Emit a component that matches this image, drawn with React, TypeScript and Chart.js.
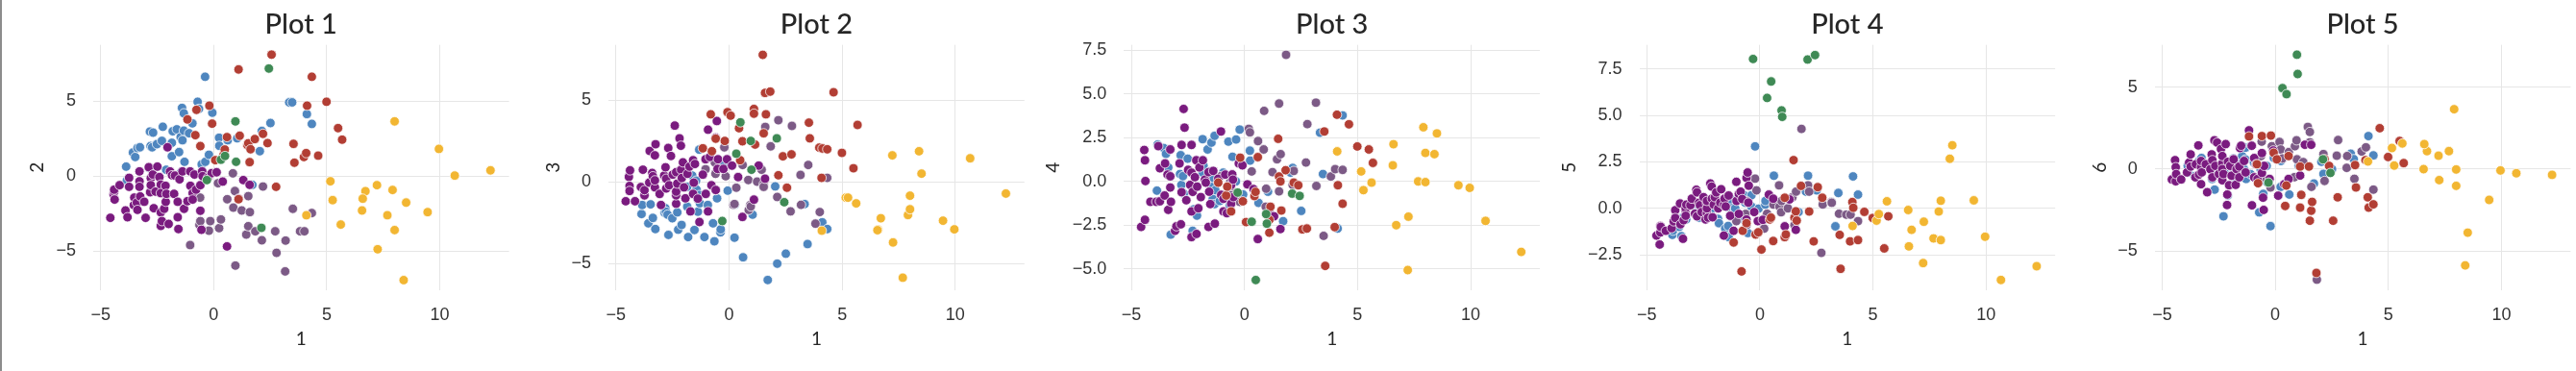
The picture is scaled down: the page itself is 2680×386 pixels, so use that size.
import React, { useEffect, useRef } from "react";
import { Chart, registerables } from "chart.js";

Chart.register(...registerables);

// ---------------- DATA ----------------
const plotTitles = ["Plot 1", "Plot 2", "Plot 3", "Plot 4", "Plot 5"];
const xAxisTitle = "1";
const yAxisTitles = ["2", "3", "4", "5", "6"];
const xTickValues = [-5, 0, 5, 10];
const yTickValues1 = [-5, 0, 5];
const yTickValues2 = [-5, 0, 5];
const yTickValues3 = [-5, -2.5, 0, 2.5, 5, 7.5];
const yTickValues4 = [-2.5, 0, 2.5, 5, 7.5];
const yTickValues5 = [-5, 0, 5];

// Yellow group
const yellowPC1 = [8.0, 9.96, 12.24, 10.66, 5.16, 7.22, 6.71, 7.91, 6.59, 5.26, 8.51, 6.56, 9.46, 7.68, 4.1, 5.62, 8.0, 7.25, 8.4];
const yellowPC2 = [3.66, 1.82, 0.39, 0.04, -0.34, -0.6, -1.0, -0.92, -1.5, -1.6, -1.76, -2.29, -2.4, -2.61, -2.61, -3.23, -3.6, -4.88, -6.94];
const yellowPC3 = [-0.84, -2.9, -0.71, 1.45, -0.96, 1.63, -2.22, -2.02, -2.92, -0.96, 0.51, -2.95, -2.37, -5.86, -2.98, -1.31, -1.67, -3.7, 1.88];
const yellowPC4 = [1.63, -0.37, -4.04, -2.26, 0.57, -5.08, -2.51, 3.1, 2.13, -0.5, 2.75, 0.92, -0.22, 0.0, 1.72, -0.07, -0.04, -2.02, 1.56];
const yellowPC5 = [0.41, -1.53, -3.12, -3.86, -0.66, -2.95, -1.16, -0.17, -2.05, -0.31, 3.4, -0.09, 0.43, -1.62, -0.95, 0.38, -1.71, -0.72, 2.67];
const yellowPC6 = [-0.02, -0.08, -0.35, -0.25, 1.29, 0.82, 1.1, 3.66, 1.53, 0.22, -3.88, 0.0, -1.88, 1.1, 0.47, 1.57, -1.02, -0.67, -5.88];

// Green group
const greenPC1 = [-0.3, 0.32, 0.5, 0.96, 0.99, 2.11, 2.44];
const greenPC2 = [-0.26, 1.1, 1.35, 3.66, 0.96, -3.45, 7.19];
const greenPC3 = [-2.39, 1.73, 3.65, 2.51, 0.75, 2.67, -1.24];
const greenPC4 = [-0.64, -2.31, -5.65, -1.87, -2.42, -0.7, -0.83];
const greenPC5 = [8.05, 5.95, 6.84, 5.28, 4.93, 8.02, 8.26];
const greenPC6 = [-0.82, 4.95, 4.58, 6.99, 5.81, 0.6, -0.23];

// Red group
const redPC1 = [-1.16, -0.81, -0.76, -0.59, -0.19, -0.07, 0.07, 0.44, 0.49, 0.59, 1.1, 1.1, 1.15, 1.49, 1.53, 1.59, 1.63, 1.82, 2.18, 2.38, 2.56, 2.76, 3.53, 3.57, 3.99, 4.09, 4.13, 4.34, 4.62, 4.99, 5.5, 5.68];
const redPC2 = [3.79, 2.74, 4.43, 2.01, 4.71, 3.51, 1.07, 1.43, 1.78, 2.61, 7.13, -1.54, 2.7, 2.08, 2.2, 0.94, 1.8, 2.48, 2.83, 2.21, 8.12, -0.71, 2.16, 0.9, 1.28, 1.54, 4.71, 6.64, 1.37, 4.97, 3.21, 2.44];
const redPC3 = [2.06, 4.14, 1.88, 2.65, 2.51, 4.27, 4.06, 3.29, 1.33, 2.49, 4.47, 4.18, 2.29, 7.78, 2.98, 5.45, 4.14, 5.53, 0.41, 1.57, -0.35, 1.69, 3.63, 2.67, 2.1, 0.25, 2.05, 2.0, 5.49, 1.78, 0.84, 3.49];
const redPC4 = [-0.07, -0.81, -0.3, -1.72, 1.36, -1.14, -2.33, -0.84, -0.6, 1.39, -2.2, -2.94, -1.45, 2.44, 0.28, 0.0, -1.67, 0.64, -0.07, -0.22, -2.75, -2.7, 2.86, -4.84, -2.62, 3.82, -0.22, -1.28, 3.27, 2.0, 1.83, 1.06];
const redPC5 = [-1.84, -3.4, -1.21, -0.8, -1.41, -1.29, -2.22, -0.6, -0.5, -1.76, -1.55, 0.57, -1.41, 2.6, -0.5, -0.16, -0.66, 1.21, -0.17, -1.78, 1.14, 0.57, -1.43, -3.26, -1.78, 0.34, 0.03, -1.71, -0.19, -0.52, -2.16, -0.43];
const redPC6 = [2.0, 0.3, -0.86, 2.02, 2.05, 1.0, 0.6, -2.25, -1.0, 0.8, 0.16, -2.35, -1.57, 0.16, -3.15, -2.54, -2.0, -6.34, 0.61, 0.2, -3.15, -1.72, 0.25, -1.12, 0.55, -1.72, -2.35, -2.15, 2.5, 0.74, 1.72, 0.37];

// Mauve group
const mauvePC1 = [-1.04, -0.63, -0.6, -0.59, -0.21, -0.15, 0.19, 0.24, 0.32, 0.6, 0.85, 0.87, 0.94, 0.96, 1.24, 1.44, 1.53, 1.53, 1.6, 1.84, 2.13, 2.18, 2.72, 2.78, 3.16, 3.18, 3.5, 3.82, 4.01, 4.34];
const mauvePC2 = [-4.6, -3.25, -1.43, -3.0, -3.64, -3.0, -0.47, -3.47, -2.89, -1.54, 0.19, -2.1, -0.99, -5.97, -2.29, -3.9, -1.33, -3.34, -2.4, -3.68, -4.28, -0.69, -3.68, -5.12, -6.36, -4.3, -2.18, -3.68, -3.68, -2.46];
const mauvePC3 = [0.78, 1.2, 0.5, -0.5, 2.12, 0.35, -1.4, -1.35, -0.35, 1.04, 0.12, -1.71, -1.41, -1.5, 0.02, 0.75, -0.14, -0.3, 3.37, 2.18, -0.92, 3.78, -1.8, 3.43, 0.43, -1.4, 1.04, -2.55, -1.84, 0.25];
const mauvePC4 = [0.3, -0.04, -0.4, -0.8, -1.17, 1.0, 3.01, 2.81, 0.57, 2.31, 1.83, 4.04, -1.45, -0.42, 0.53, 1.27, 4.46, -0.57, 1.56, 7.25, -0.2, 0.6, 1.08, 3.28, 4.51, -0.26, -3.12, 0.28, 0.7, 0.66];
const mauvePC5 = [-0.69, -0.3, 0.4, -0.9, 1.6, 0.97, -1.09, -0.5, -0.29, 0.2, 1.24, 0.09, -0.21, 0.4, 0.0, 0.6, -0.52, -0.9, 0.9, 4.28, 1.24, 0.9, -2.4, 0.21, 0.34, 0.3, -0.29, -0.34, -0.34, -0.69];
const mauvePC6 = [1.43, 0.8, 1.68, -0.5, -1.12, 1.4, 1.66, 1.2, 0.65, 1.04, -0.49, 1.4, 1.76, 0.6, 0.43, 2.58, 1.64, 2.27, -1.08, -6.75, 0.92, -0.72, 0.82, 1.78, 0.08, 0.8, -0.59, 1.08, 1.33, -1.25];

// Blue group
const bluePC1 = [-3.87, -3.84, -3.57, -3.47, -3.37, -3.26, -2.85, -2.82, -2.79, -2.72, -2.68, -2.51, -2.29, -2.25, -2.1, -1.85, -1.85, -1.81, -1.63, -1.53, -1.46, -1.44, -1.4, -1.38, -1.32, -1.32, -1.29, -1.09, -0.94, -0.71, -0.65, -0.53, -0.38, -0.37, -0.21, -0.06, 0.24, 0.25, 0.62, 1.04, 1.71, 2.04, 2.13, 2.51, 3.34, 3.47, 4.12, 4.34];
const bluePC2 = [0.64, -0.3, 1.58, 1.28, 1.88, 1.93, 0.54, 2.98, 2.01, 1.93, 2.91, 2.14, 2.36, 3.3, 0.43, 2.23, 1.33, 3.0, 3.13, 1.61, 2.61, 0.26, 4.56, 2.4, 4.2, 3.04, 0.96, 2.87, 3.53, 4.97, 4.5, 0.79, 6.64, 0.96, 1.43, 4.24, 2.57, 2.03, 2.4, 2.53, -0.58, 1.67, 3.02, 3.55, 4.93, 4.93, 4.15, 3.49];
const bluePC3 = [-1.96, -1.41, -2.53, -1.37, -2.2, -2.88, -1.88, -1.6, -1.82, -2.0, -3.24, -2.22, -1.86, -2.92, -2.63, -1.51, -0.29, -3.37, 0.39, -2.94, 0.08, -0.47, -1.0, -1.82, 1.98, -0.8, -1.3, -3.37, -1.41, -2.53, -3.63, -1.0, -3.08, -2.9, 1.14, -0.53, -3.41, -1.4, -4.61, -2.0, -6.0, -0.27, -5.0, -4.39, -1.35, -3.8, -2.47, -2.88];
const bluePC4 = [-0.53, 2.11, 1.91, 1.58, 0.8, -3.05, 0.42, 1.5, -0.2, 0.3, -0.7, 1.3, -2.83, -1.6, -1.96, 2.42, 0.5, 0.9, 1.83, 0.57, 2.22, -0.3, -1.0, 0.2, 2.61, -1.3, -0.5, -1.12, 0.5, 2.28, -1.36, 1.41, 0.0, 2.4, 2.97, -0.75, 1.76, 1.19, -1.23, -0.59, -2.28, 0.5, 0.77, -1.69, 2.79, 0.42, -2.7, 3.78];
const bluePC5 = [-1.43, -1.2, -1.0, -1.5, -0.47, -0.6, -0.3, 0.1, -0.22, 0.2, -0.5, 0.52, -0.38, 0.3, 0.0, -0.57, 0.2, -0.8, 0.43, -1.09, 0.6, 0.07, -0.95, -1.55, 0.3, -0.4, 0.5, 0.0, -0.6, 0.72, 0.31, -1.33, 0.1, 0.71, 3.34, -0.02, 0.2, 0.4, 1.76, 0.0, -0.2, 0.9, 1.76, 0.97, -0.97, 0.83, 1.72, 0.74];
const bluePC6 = [0.2, -0.2, -0.43, 0.3, 0.5, 0.68, -0.02, 0.4, -0.6, -0.39, -1.25, 0.1, -2.88, -0.2, -1.6, 0.65, 0.06, -0.5, 0.3, -0.1, 0.8, 0.2, -0.4, 0.0, 1.31, 0.59, -0.6, -0.31, 0.4, -2.64, 0.0, -1.51, 0.2, -0.8, -3.48, 0.68, -1.08, 0.5, -1.55, 0.2, -0.88, 0.45, -0.29, 0.0, 0.94, 0.61, 2.02, 0.84];

// Purple group
const purplePC1 = [-4.57, -4.43, -4.4, -4.4, -4.38, -4.16, -3.9, -3.81, -3.74, -3.74, -3.53, -3.51, -3.4, -3.37, -3.28, -3.28, -3.28, -3.25, -3.07, -3.01, -2.87, -2.81, -2.78, -2.78, -2.69, -2.65, -2.57, -2.49, -2.4, -2.34, -2.34, -2.34, -2.34, -2.29, -2.19, -2.13, -2.12, -2.09, -2.04, -1.99, -1.93, -1.84, -1.75, -1.71, -1.59, -1.59, -1.56, -1.51, -1.38, -1.31, -1.16, -1.04, -1.03, -0.93, -0.93, -0.85, -0.78, -0.59, -0.59, -0.54, -0.51, -0.49, -0.25, -0.09, 0.13, 0.4, 0.59, 1.1, 1.31, 1.59];
const purplePC2 = [-2.78, -1.2, -1.03, -0.9, -1.56, -0.6, -2.29, -2.74, -0.11, -0.71, -1.93, -1.43, -1.76, -2.25, 0.32, -0.34, -0.71, -1.35, -1.71, -2.78, 0.6, -1.07, -0.13, -0.6, 0.11, -2.14, -1.03, 0.64, -0.06, -0.56, -1.13, -2.42, -3.32, -3.0, -2.18, -0.64, -1.71, -1.18, 1.93, -3.19, 0.32, 0.06, -1.18, 0.04, -1.71, -2.74, -3.53, -0.21, 0.32, -2.18, -1.67, 0.32, -0.64, -1.13, -1.56, 0.11, -0.9, -0.6, -2.31, -3.58, 0.32, 0.0, -0.1, 0.2, 0.26, -0.36, -4.69, -1.5, -0.26, -0.58];
const purplePC3 = [-1.18, 0.31, -0.24, -0.55, 0.71, -1.18, -0.31, 0.75, -0.82, -0.5, -0.04, 1.9, 0.55, 0.35, 1.63, -0.33, 0.1, 2.31, -0.73, -1.41, 0.39, 0.9, 0.2, -0.4, 2.08, -0.2, 1.59, 0.45, 3.45, -1.33, -0.82, -0.59, 0.6, -0.1, 2.67, 2.22, 0.75, 0.24, 1.2, -0.33, -1.0, 0.5, 0.94, -1.8, -0.73, 1.33, -0.04, 1.1, -1.02, -2.45, 0.45, 1.39, -0.73, 3.2, -1.8, 1.53, -0.2, 2.71, -0.49, 3.73, 0.8, 1.39, 0.8, 1.39, 1.0, 0.3, -2.14, -1.08, 1.0, 0.2];
const purplePC4 = [-2.61, 1.8, -2.2, 1.21, 0.02, -1.17, -1.17, 2.02, -1.14, 0.75, -0.81, 1.03, 0.39, -1.63, 1.83, -0.35, 0.29, -1.17, -2.83, -2.57, 1.03, -2.46, -0.62, 2.09, 4.15, 3.08, -1.08, 0.66, -0.2, 2.09, -3.19, -1.72, 0.5, -0.6, 0.24, 1.21, -3.01, -0.3, -1.54, 0.8, -0.9, 1.21, 0.1, -0.07, -2.61, 0.53, -0.59, -1.3, 0.6, -2.42, 0.15, 2.86, -0.77, -1.72, -1.0, 0.39, -1.82, -0.2, -1.28, 0.4, 0.1, -0.9, 1.03, 0.92, -0.17, -0.44, -3.3, -1.78, -2.0, -2.73];
const purplePC5 = [-1.47, -1.95, -0.95, -1.3, -1.0, -1.21, -1.07, -0.7, -0.1, -0.52, 0.26, -0.86, -1.64, -0.64, -0.12, 0.0, -0.4, 0.2, 0.17, 0.52, -0.29, 1.0, 0.86, -0.43, 0.3, 0.17, -0.2, 0.6, -0.6, 0.26, -0.26, 0.0, 0.4, -0.5, 1.34, 1.17, 0.52, -0.48, 0.2, 0.6, 0.86, 0.0, 0.31, 1.03, 0.17, -1.47, 0.52, 0.1, 0.69, -0.4, -1.21, 1.43, 0.4, 0.78, -0.3, 0.9, 0.5, 1.64, -0.6, 1.93, 0.31, 1.22, -0.2, -0.69, -0.62, 0.74, 0.52, -0.97, 0.48, -1.16];
const purplePC6 = [-0.63, 0.55, 0.12, -0.74, -0.3, -0.63, -0.2, 0.4, 0.9, 0.16, -0.5, 0.3, 1.45, -0.33, -0.92, 0.12, 0.5, -0.2, 0.3, -1.41, 0.0, 0.9, 0.55, -0.5, 1.76, 0.2, 1.62, -0.3, 1.23, 0.35, -0.68, 0.0, 0.8, -0.3, 1.53, -2.19, -1.55, 0.45, -0.98, 0.2, -0.4, 0.6, -0.96, 0.0, 0.16, -0.5, 1.29, 1.43, 0.5, -0.2, 2.37, 1.43, -2.21, 0.68, -0.5, 0.3, -0.6, 0.98, -0.23, -1.74, -2.49, 0.2, -0.6, 1.14, -1.62, -0.92, -0.6, -0.39, 1.49, 1.49];

// Axis ranges per panel
const xRange = [-5.33, 13.06];
const yMins = [-7.6, -6.61, -6.22, -4.4, -7.38];
const yMaxs = [8.77, 8.39, 7.82, 8.81, 7.59];
const yTickSets = [yTickValues1, yTickValues2, yTickValues3, yTickValues4, yTickValues5];
const yTickDecimals = [0, 0, 1, 1, 0];

// ---------------- STYLE / LAYOUT ----------------
const groups = [
  { label: "Group E", color: "#f2b632", pcs: [yellowPC1, yellowPC2, yellowPC3, yellowPC4, yellowPC5, yellowPC6] },
  { label: "Group D", color: "#3f8a55", pcs: [greenPC1, greenPC2, greenPC3, greenPC4, greenPC5, greenPC6] },
  { label: "Group C", color: "#b23e34", pcs: [redPC1, redPC2, redPC3, redPC4, redPC5, redPC6] },
  { label: "Group A", color: "#7a1b7f", pcs: [purplePC1, purplePC2, purplePC3, purplePC4, purplePC5, purplePC6] },
  { label: "Group F", color: "#7c5a86", pcs: [mauvePC1, mauvePC2, mauvePC3, mauvePC4, mauvePC5, mauvePC6] },
  { label: "Group B", color: "#4e86bf", pcs: [bluePC1, bluePC2, bluePC3, bluePC4, bluePC5, bluePC6] },
];

const PAGE_W = 2680;
const PAGE_H = 386;
const AREA_TOP = 46.7;
const AREA_BOTTOM = 301.7;
const AREA_W = 432.7;
const AREA_LEFT0 = 96.9;
const AREA_STEP = 536.2;
const yTitleOffsets = [58.8, 58.2, 73.7, 73.1, 57.7];
const AXIS_TITLE_SIZE = 19;
const TEXT_COLOR = "#262626";
const TICK_COLOR = "#333333";
const GRID_COLOR = "#e6e6e6";

const minusify = (s: string) => s.replace("-", "\u2212");

const panelTitlePlugin = {
  id: "panelTitle",
  afterDraw(chart: any, _args: any, opts: any) {
    const { ctx, chartArea } = chart;
    ctx.save();
    ctx.font = "500 29px Lato";
    ctx.fillStyle = TEXT_COLOR;
    ctx.textAlign = "center";
    ctx.textBaseline = "middle";
    ctx.fillText(opts.text, (chartArea.left + chartArea.right) / 2, 26);
    ctx.restore();
  },
};

function Panel({ index }: { index: number }) {
  const ref = useRef<HTMLCanvasElement>(null);
  const areaLeft = AREA_LEFT0 + index * AREA_STEP;
  const titleCenter = areaLeft - yTitleOffsets[index];
  const canvasLeft = Math.round(titleCenter - (AXIS_TITLE_SIZE * 1.2) / 2);
  const yAxisWidth = areaLeft - canvasLeft;
  const canvasWidth = Math.round(yAxisWidth + AREA_W + 12);
  const rightPad = canvasWidth - yAxisWidth - AREA_W;

  useEffect(() => {
    if (!ref.current) return;
    const decimals = yTickDecimals[index];
    const yTicks = yTickSets[index];
    const chart = new Chart(ref.current, {
      type: "scatter",
      data: {
        datasets: groups.map((g) => ({
          label: g.label,
          data: g.pcs[0].map((x, j) => ({ x, y: g.pcs[index + 1][j] })),
          backgroundColor: g.color,
          borderColor: "rgba(255,255,255,0.95)",
          borderWidth: 0.8,
          pointRadius: 4.9,
          pointHoverRadius: 4.9,
        })),
      },
      options: {
        responsive: false,
        animation: false,
        devicePixelRatio: 1,
        layout: { padding: { top: AREA_TOP, right: rightPad, bottom: 0, left: 0 } },
        plugins: {
          legend: { display: false },
          tooltip: { enabled: false },
          panelTitle: { text: plotTitles[index] },
        } as any,
        scales: {
          x: {
            type: "linear",
            min: xRange[0],
            max: xRange[1],
            afterFit: (s: any) => {
              s.height = PAGE_H - AREA_BOTTOM;
            },
            afterBuildTicks: (s: any) => {
              s.ticks = xTickValues.map((v) => ({ value: v }));
            },
            ticks: {
              padding: 15.5,
              color: TICK_COLOR,
              font: { family: "'Liberation Sans', Arial, sans-serif", size: 18 },
              callback: (v: any) => minusify(String(v)),
            },
            grid: { color: GRID_COLOR, lineWidth: 1, drawTicks: false },
            border: { display: false },
            title: {
              display: true,
              text: xAxisTitle,
              color: TEXT_COLOR,
              font: { family: "Lato", size: AXIS_TITLE_SIZE },
              padding: { top: 0, bottom: 21.3 },
            },
          },
          y: {
            type: "linear",
            min: yMins[index],
            max: yMaxs[index],
            afterFit: (s: any) => {
              s.width = yAxisWidth;
            },
            afterBuildTicks: (s: any) => {
              s.ticks = yTicks.map((v) => ({ value: v }));
            },
            ticks: {
              padding: 18,
              color: TICK_COLOR,
              font: { family: "'Liberation Sans', Arial, sans-serif", size: 18 },
              callback: (v: any) => minusify(Number(v).toFixed(decimals)),
            },
            grid: { color: GRID_COLOR, lineWidth: 1, drawTicks: false },
            border: { display: false },
            title: {
              display: true,
              text: yAxisTitles[index],
              color: TEXT_COLOR,
              font: { family: "Lato", size: AXIS_TITLE_SIZE },
              padding: { top: 0, bottom: 0 },
            },
          },
        },
      },
      plugins: [panelTitlePlugin],
    } as any);
    return () => chart.destroy();
  }, [index]);

  return (
    <canvas
      ref={ref}
      width={canvasWidth}
      height={PAGE_H}
      style={{ position: "absolute", left: canvasLeft, top: 0, width: canvasWidth, height: PAGE_H }}
    />
  );
}

export default function App() {
  return (
    <div
      style={{
        position: "fixed",
        left: 0,
        top: 0,
        width: PAGE_W,
        height: PAGE_H,
        background: "#ffffff",
        overflow: "hidden",
      }}
    >
      <div style={{ position: "absolute", left: 0, top: 0, width: 2, height: PAGE_H, background: "#8c8c8c" }} />
      {plotTitles.map((_, i) => (
        <Panel key={i} index={i} />
      ))}
    </div>
  );
}
